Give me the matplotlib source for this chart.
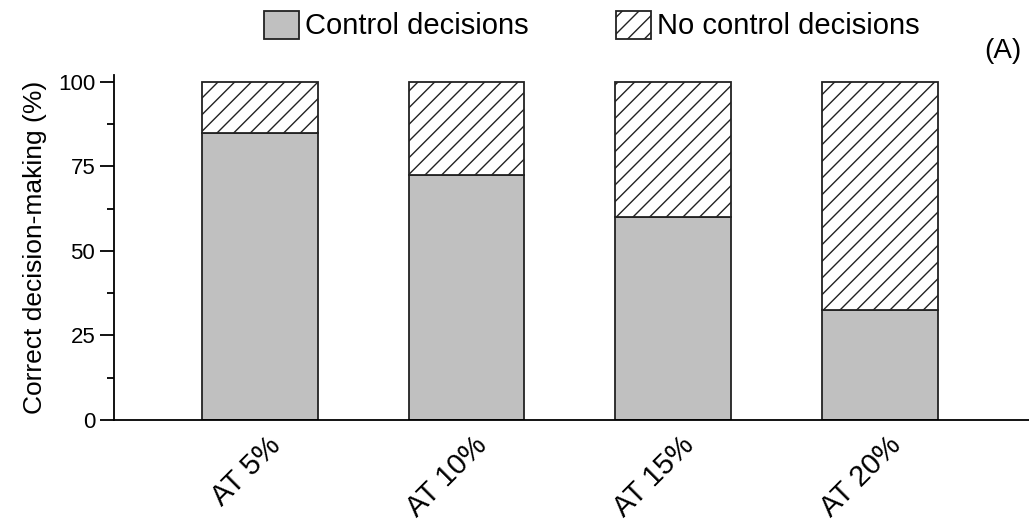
import numpy as np
import matplotlib.pyplot as plt
from matplotlib.ticker import MultipleLocator

plt.rcParams['font.family'] = ['Liberation Sans', 'DejaVu Sans']
plt.rcParams['hatch.linewidth'] = 1.0

categories = ['AT 5%', 'AT 10%', 'AT 15%', 'AT 20%']
control = [85.0, 72.5, 60.0, 32.5]
no_control = [15.0, 27.5, 40.0, 67.5]

fig = plt.figure(figsize=(10.29, 5.25), dpi=100)
ax = fig.add_axes([0.1108, 0.2, 0.8892, 0.657])

x = np.arange(len(categories))
ax.bar(x, control, width=0.56, color='#c0c0c0', edgecolor='#222222',
       linewidth=1.3, label='Control decisions')
ax.bar(x, no_control, width=0.56, bottom=control, color='white',
       edgecolor='#222222', hatch='//', linewidth=1.3, label='No control decisions')

ax.set_xlim(-0.705, 3.72)
ax.set_ylim(0, 102)
# ticks are hidden, so nudge the rotated labels slightly right of bar centres
ax.set_xticks(x + 0.03)
ax.set_xticklabels(categories, rotation=45, ha='right', rotation_mode='anchor', fontsize=21)
ax.set_yticks([0, 25, 50, 75, 100])
ax.yaxis.set_minor_locator(MultipleLocator(12.5))
ax.tick_params(axis='y', which='major', length=10, width=1.3, labelsize=16, direction='out')
ax.tick_params(axis='y', which='minor', length=5, width=1.3, direction='out')
ax.tick_params(axis='x', length=0, pad=8)
ax.set_ylabel('Correct decision-making (%)', fontsize=19, labelpad=8)

for s in ['top', 'right']:
    ax.spines[s].set_visible(False)
for s in ['left', 'bottom']:
    ax.spines[s].set_linewidth(1.3)

fig.legend(loc='upper center', bbox_to_anchor=(0.575, 1.03), ncol=2, frameon=False,
           fontsize=21, handlelength=1.2, handleheight=1.1, columnspacing=3.0,
           handletextpad=0.2)
fig.text(0.993, 0.878, '(A)', ha='right', va='bottom', fontsize=20)

fig.savefig('out.png', dpi=100)
